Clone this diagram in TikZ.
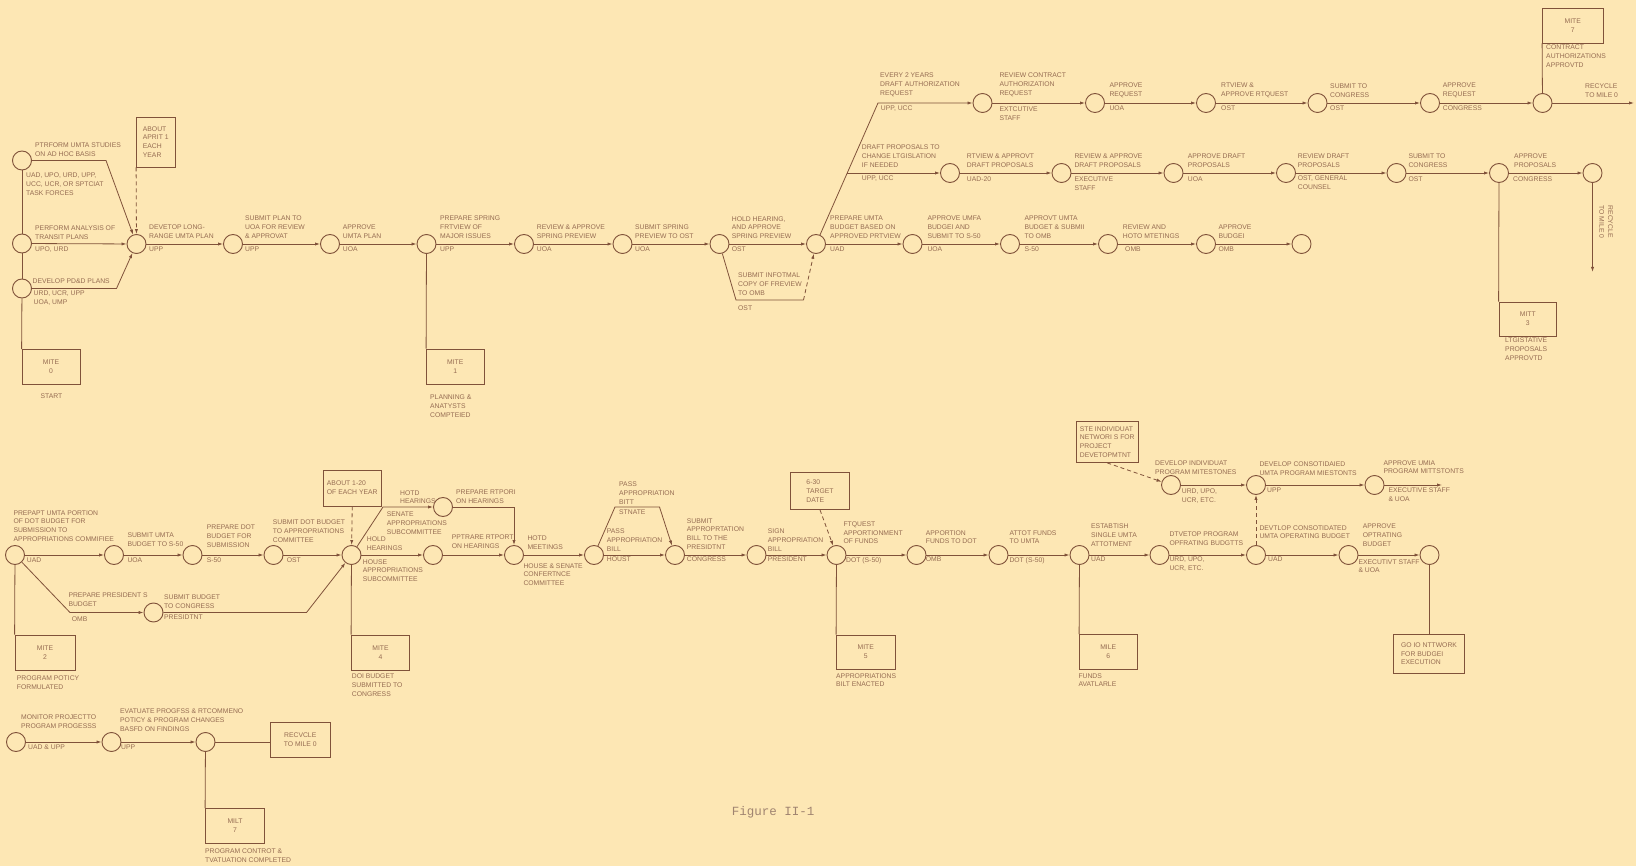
\documentclass[tikz,border=0pt]{standalone}
\usepackage{fontspec}
\usetikzlibrary{arrows.meta}
\newfontfamily\lblf{Liberation Sans}
\newfontfamily\figf{Liberation Mono}
\definecolor{bg}{RGB}{253,231,180}
\definecolor{ln}{RGB}{128,82,58}
\definecolor{tx}{RGB}{150,108,82}
\definecolor{fg}{RGB}{160,132,112}
\newcommand\lbl{\lblf\fontsize{6.8}{8.8}\selectfont}
\newcommand\AbL[4]{\node[ab] (#1) at (#2,#3) {#4};}
\newcommand\BeL[4]{\node[bl] (#1) at (#2,#3) {#4};}
\tikzset{
 ev/.style={circle,draw=ln,line width=0.9pt,minimum size=19pt,inner sep=0pt},
 lab/.style={font=\lbl,text=tx,align=left,inner sep=0pt},
 ab/.style={lab,anchor=south west},
 bl/.style={lab,anchor=north west},
 mbox/.style={draw=ln,line width=0.8pt,font=\lbl,text=tx,align=center,inner sep=1pt},
 lbox/.style={mbox,align=left},
 con/.style={draw=ln,line width=0.8pt},
 arr/.style={con,-{Latex[length=5pt,width=3.2pt]}},
 dsh/.style={arr,dash pattern=on 4pt off 3pt},
}
\begin{document}
\begin{tikzpicture}[x=1pt,y=-1pt]
\fill[bg] (0,0) rectangle (1636,866);
\useasboundingbox (0,0) rectangle (1636,866);

% ---------------- top section: events
\node[ev] (A1) at (22,160.5) {};
\node[ev] (A2) at (22,243.5) {};
\node[ev] (A3) at (22,288.5) {};
\node[ev] (B) at (136.5,244) {};
\node[ev] (C) at (233,244) {};
\node[ev] (D) at (330,244) {};
\node[ev] (E) at (426.5,244) {};
\node[ev] (F) at (524,244) {};
\node[ev] (G) at (622.5,244) {};
\node[ev] (H) at (719.5,244) {};
\node[ev] (I) at (816,244) {};
\node[ev] (J) at (912.5,244) {};
\node[ev] (K) at (1010,244) {};
\node[ev] (L) at (1108,244) {};
\node[ev] (M) at (1206,244) {};
\node[ev] (N) at (1301.5,244) {};
\node[ev] (U1) at (982.5,103) {};
\node[ev] (U2) at (1095,103) {};
\node[ev] (U3) at (1206,103) {};
\node[ev] (U4) at (1317.5,103) {};
\node[ev] (U5) at (1430,103) {};
\node[ev] (U6) at (1542.5,103) {};
\node[ev] (V1) at (950,173) {};
\node[ev] (V2) at (1061.5,173) {};
\node[ev] (V3) at (1173.5,173) {};
\node[ev] (V4) at (1286,173) {};
\node[ev] (V5) at (1396.5,173) {};
\node[ev] (V6) at (1499,173) {};
\node[ev] (V7) at (1592.5,173) {};

% boxes top
\node[mbox,minimum width=58pt,minimum height=34.5pt] (m0) at (51,366.75) {MITE\\0};
\node[lbox,minimum width=38.5pt,minimum height=50pt] (apr) at (155.75,142) {ABOUT\\APRIT 1\\EACH\\YEAR};
\node[mbox,minimum width=57.5pt,minimum height=35pt] (m1) at (455.25,366.5) {MITE\\1};
\node[mbox,minimum width=60.5pt,minimum height=35pt] (m7) at (1572.75,25.5) {MITE\\7};
\node[mbox,minimum width=57.5pt,minimum height=34pt] (m3) at (1527.75,319) {MITT\\3};

% corner points top
\coordinate (cA1) at (106,160.5);
\coordinate (cA3) at (116.5,288.5);
\coordinate (cH1) at (736,300);
\coordinate (cH2) at (803.5,300);
\coordinate (cI) at (878,103);
\coordinate (cM) at (847.2,173);
\coordinate (eU) at (1634,103);
\coordinate (eV) at (1592.5,272);

% connectors top
\draw[con] (A1) -- (A2);
\draw[con] (A2) -- (A3);
\draw[con] (A3) -- (m0.north west);
\draw[arr] (A1) -- (cA1) -- (B);
\draw[arr] (A2) -- (B);
\draw[arr] (A3) -- (cA3) -- (B);
\draw[dsh] (apr.south west) -- (B);
\draw[arr] (B) -- (C);
\draw[arr] (C) -- (D);
\draw[arr] (D) -- (E);
\draw[con] (E) -- (m1.north west);
\draw[arr] (E) -- (F);
\draw[arr] (F) -- (G);
\draw[arr] (G) -- (H);
\draw[arr] (H) -- (I);
\draw[con] (H) -- (cH1) -- (cH2);
\draw[dsh] (cH2) -- (I);
\draw[arr] (I) -- (J);
\draw[arr] (J) -- (K);
\draw[arr] (K) -- (L);
\draw[arr] (L) -- (M);
\draw[arr] (M) -- (N);
\draw[arr] (I) -- (cI) -- (U1);
\draw[arr] (U1) -- (U2);
\draw[arr] (U2) -- (U3);
\draw[arr] (U3) -- (U4);
\draw[arr] (U4) -- (U5);
\draw[arr] (U5) -- (U6);
\draw[arr] (U6) -- (eU);
\draw[con] (U6) -- (m7.south west);
\draw[arr] (cM) -- (V1);
\draw[arr] (V1) -- (V2);
\draw[arr] (V2) -- (V3);
\draw[arr] (V3) -- (V4);
\draw[arr] (V4) -- (V5);
\draw[arr] (V5) -- (V6);
\draw[arr] (V6) -- (V7);
\draw[con] (V6) -- (m3.north west);
\draw[arr] (V7) -- (eV);

% labels top
\AbL{tA1}{35}{156.5}{PTRFORM UMTA STUDIES\\ON AD HOC BASIS}
\BeL{bA1}{26}{172.5}{UAD, UPO, URD, UPP,\\UCC, UCR, OR SPTCIAT\\TASK FORCES}
\AbL{tA2}{35}{239.5}{PERFORM ANALYSIS OF\\TRANSIT PLANS}
\BeL{bA2}{35}{246.8}{UPO, URD}
\AbL{tA3}{32.5}{284.2}{DEVELOP PD\&D PLANS}
\BeL{bA3}{33.5}{290.8}{URD, UCR, UPP\\UOA, UMP}
\node[lab,anchor=center] (s0) at (51.5,396) {START};
\AbL{tB}{149}{239}{DEVETOP LONG-\\RANGE UMTA PLAN}
\BeL{bB}{149}{247}{UPP}
\AbL{tC}{245}{238.5}{SUBMIT PLAN TO\\UOA FOR REVIEW\\\& APPROVAT}
\BeL{bC}{245}{247}{UPP}
\AbL{tD}{342.7}{239}{APPROVE\\UMTA PLAN}
\BeL{bD}{342.7}{247}{UOA}
\AbL{tE}{440}{238.5}{PREPARE SPRING\\FRTVIEW OF\\MAJOR ISSUES}
\BeL{bE}{440}{247}{UPP}
\BeL{s1}{430}{394.8}{PLANNING \&\\ANATYSTS\\COMPTEIED}
\AbL{tF}{536.7}{238.5}{REVIEW \& APPROVE\\SPRING PREVIEW}
\BeL{bF}{536.7}{247}{UOA}
\AbL{tG}{635}{238.5}{SUBMIT SPRING\\PREVIEW TO OST}
\BeL{bG}{635}{247}{UOA}
\AbL{tH}{731.7}{239}{HOLD HEARING,\\AND APPROVE\\SPRING PREVIEW}
\BeL{bH}{731.7}{247}{OST}
\AbL{tH2}{738}{295.8}{SUBMIT INFOTMAL\\COPY OF FREVIEW\\TO OMB}
\BeL{bH2}{738}{305.2}{OST}
\AbL{tI}{830}{238.5}{PREPARE UMTA\\BUDGET BASED ON\\APPROVED PRTVIEW}
\BeL{bI}{830}{247}{UAD}
\AbL{tJ}{927.3}{238.5}{APPROVE UMFA\\BUDGEI AND\\SUBMIT TO S-50}
\BeL{bJ}{927.3}{247}{UOA}
\AbL{tK}{1024.3}{238.5}{APPROVT UMTA\\BUDGET \& SUBMII\\TO OMB}
\BeL{bK}{1024.3}{247}{S-50}
\AbL{tL}{1122.7}{238.5}{REVIEW AND\\HOTO MTETINGS}
\BeL{bL}{1125}{247}{OMB}
\AbL{tM}{1218.3}{238.5}{APPROVE\\BUDGEI}
\BeL{bM}{1218.3}{247}{OMB}
\AbL{tU0}{880}{97}{EVERY 2 YEARS\\DRAFT AUTHORIZATION\\REQUEST}
\BeL{bU0}{880.7}{106}{UPP, UCC}
\AbL{tU1}{999.3}{97}{REVIEW CONTRACT\\AUTHORIZATION\\REQUEST}
\BeL{bU1}{999.3}{106.5}{EXTCUTIVE\\STAFF}
\AbL{tU2}{1109.3}{98}{APPROVE\\REQUEST}
\BeL{bU2}{1109.3}{106}{UOA}
\AbL{tU3}{1221}{97.5}{RTVIEW \&\\APPROVE RTQUEST}
\BeL{bU3}{1221}{106}{OST}
\AbL{tU4}{1330}{97.5}{SUBMIT TO\\CONGRESS}
\BeL{bU4}{1330}{106}{OST}
\AbL{tU5}{1442.7}{97.5}{APPROVE\\REQUEST}
\BeL{bU5}{1442.7}{106}{CONGRESS}
\AbL{tU6}{1585}{97.5}{RECYCLE\\TO MILE 0}
\BeL{s7}{1546}{45}{CONTRACT\\AUTHORIZATIONS\\APPROVTD}
\AbL{tV0}{861.7}{167.5}{DRAFT PROPOSALS TO\\CHANGE LTGISLATION\\IF NEEDED}
\BeL{bV0}{861.7}{175.5}{UPP, UCC}
\AbL{tV1}{966.7}{167.5}{RTVIEW \& APPROVT\\DRAFT PROPOSALS}
\BeL{bV1}{966.7}{176.5}{UAD-20}
\AbL{tV2}{1074.3}{167.5}{REVIEW \& APPROVE\\DRAFT PROPOSALS}
\BeL{bV2}{1074.3}{176.5}{EXECUTIVE\\STAFF}
\AbL{tV3}{1187.7}{167.5}{APPROVE DRAFT\\PROPOSALS}
\BeL{bV3}{1187.7}{176.5}{UOA}
\AbL{tV4}{1297.7}{167.5}{REVIEW DRAFT\\PROPOSALS}
\BeL{bV4}{1297.7}{176}{OST, GENERAL\\COUNSEL}
\AbL{tV5}{1408.3}{167.5}{SUBMIT TO\\CONGRESS}
\BeL{bV5}{1408.3}{176.5}{OST}
\AbL{tV6}{1514}{167.5}{APPROVE\\PROPOSALS}
\BeL{bV6}{1513}{176.5}{CONGRESS}
\node[lab,rotate=-90,anchor=center] (tV7) at (1606,222) {RECYCLE\\TO MILE 0};
\BeL{s3}{1505}{337.5}{LTGISTATIVE\\PROPOSALS\\APPROVTD}

% ---------------- bottom section: events
\node[ev] (P1) at (15,555) {};
\node[ev] (P2) at (114,555) {};
\node[ev] (P3) at (192.5,555) {};
\node[ev] (P4) at (273.5,555) {};
\node[ev] (P5) at (351.5,555) {};
\node[ev] (P6) at (153.5,612.5) {};
\node[ev] (P7) at (443,507) {};
\node[ev] (P8) at (433,555) {};
\node[ev] (P9) at (514,555) {};
\node[ev] (P10) at (594,555) {};
\node[ev] (P11) at (675,555) {};
\node[ev] (P12) at (756.5,555) {};
\node[ev] (P13) at (836.5,555) {};
\node[ev] (P14) at (916.5,555) {};
\node[ev] (P15) at (998.5,555) {};
\node[ev] (P16) at (1079.5,555) {};
\node[ev] (P17) at (1159.5,555) {};
\node[ev] (P18) at (1256,555) {};
\node[ev] (P19) at (1348.5,555) {};
\node[ev] (P20) at (1429.5,555) {};
\node[ev] (Q1) at (1171,485) {};
\node[ev] (Q2) at (1256,485) {};
\node[ev] (Q3) at (1374.5,485) {};

% boxes bottom
\node[lbox,minimum width=57.5pt,minimum height=36pt] (abt) at (352.25,488) {ABOUT 1-20\\OF EACH YEAR};
\node[mbox,minimum width=60pt,minimum height=35pt] (m2) at (45,652.5) {MITE\\2};
\node[mbox,minimum width=58pt,minimum height=35pt] (m4) at (380.5,652.5) {MITE\\4};
\node[lbox,minimum width=59pt,minimum height=37pt] (date) at (820,491) {6-30\\TARGET\\DATE};
\node[mbox,minimum width=58.5pt,minimum height=34pt] (m5) at (865.75,652) {MITE\\5};
\node[mbox,minimum width=57.5pt,minimum height=34.5pt] (m6) at (1108.25,651.75) {MILE\\6};
\node[lbox,minimum width=62.5pt,minimum height=41pt] (see) at (1107.25,442) {STE INDIVIDUAT\\NETWORI S FOR\\PROJECT\\DEVETOPMTNT};
\node[lbox,minimum width=71pt,minimum height=39.5pt] (go) at (1429,653.75) {GO IO NTTWORK\\FOR BUDGEI\\EXECUTION};

% corner points bottom
\coordinate (cP1) at (70,612.5);
\coordinate (cP6) at (306.5,612.5);
\coordinate (cS1) at (383,507);
\coordinate (cS2) at (514,507);
\coordinate (cT1) at (615,507);
\coordinate (cT2) at (659.5,507);
\coordinate (eQ) at (1442,485);

% connectors bottom
\draw[arr] (P1) -- (P2);
\draw[arr] (P2) -- (P3);
\draw[arr] (P3) -- (P4);
\draw[arr] (P4) -- (P5);
\draw[arr] (P1) -- (cP1) -- (P6);
\draw[arr] (P6) -- (cP6) -- (P5);
\draw[con] (P1) -- (m2.north west);
\draw[dsh] (abt.south) -- (P5);
\draw[con] (P5) -- (m4.north west);
\draw[arr] (P5) -- (cS1) -- (P7);
\draw[arr] (P5) -- (P8);
\draw[arr] (P7) -- (cS2) -- (P9);
\draw[arr] (P8) -- (P9);
\draw[arr] (P9) -- (P10);
\draw[arr] (P10) -- (cT1) -- (cT2) -- (P11);
\draw[arr] (P10) -- (P11);
\draw[arr] (P11) -- (P12);
\draw[arr] (P12) -- (P13);
\draw[dsh] (date.south) -- (P13);
\draw[con] (P13) -- (m5.north west);
\draw[arr] (P13) -- (P14);
\draw[arr] (P14) -- (P15);
\draw[arr] (P15) -- (P16);
\draw[con] (P16) -- (m6.north west);
\draw[arr] (P16) -- (P17);
\draw[arr] (P17) -- (P18);
\draw[arr] (P18) -- (P19);
\draw[arr] (P19) -- (P20);
\draw[con] (P20) -- (P20 |- go.north);
\draw[dsh] (P18) -- (Q2);
\draw[dsh] (see.south) -- (Q1);
\draw[arr] (Q1) -- (Q2);
\draw[arr] (Q2) -- (Q3);
\draw[arr] (Q3) -- (eQ);

% labels bottom
\AbL{tP1}{13.3}{541.8}{PREPAPT UMTA PORTION\\OF DOT BUDGET FOR\\SUBMISSION TO\\APPROPRIATIONS COMMIFIEE}
\BeL{bP1}{26.7}{557.5}{UAD}
\AbL{tP2}{127.3}{546.8}{SUBMIT UMTA\\BUDGET TO S-50}
\BeL{bP2}{127.3}{557.5}{UOA}
\AbL{tP3}{206.7}{547.5}{PREPARE DOT\\BUDGET FOR\\SUBMISSION}
\BeL{bP3}{206.7}{557.5}{S-50}
\AbL{tP4}{272.7}{542.5}{SUBMIT DOT BUDGET\\TO APPROPRIATIONS\\COMMITTEE}
\BeL{bP4}{286.7}{557.5}{OST}
\AbL{tPl}{68.3}{606.8}{PREPARE PRESIDENT S\\BUDGET}
\BeL{bPl}{71.7}{616.8}{OMB}
\AbL{tP6}{164}{608.5}{SUBMIT BUDGET\\TO CONGRESS}
\BeL{bP6}{164}{615}{PRESIDTNT}
\BeL{s2}{16.7}{675.8}{PROGRAM POTICY\\FORMULATED}
\AbL{tS}{400}{504.2}{HOTD\\HEARINGS}
\BeL{bS}{386.7}{511.8}{SENATE\\APPROPRIATIONS\\SUBCOMMITTEE}
\AbL{tP5}{366.7}{550.8}{HOLD\\HEARINGS}
\BeL{bP5}{362.7}{559.2}{HOUSE\\APPROPRIATIONS\\SUBCOMMITTEE}
\BeL{s4}{351.7}{673.5}{DOI BUDGET\\SUBMITTED TO\\CONGRESS}
\AbL{tP7}{456}{503.5}{PREPARE RTPORI\\ON HEARINGS}
\AbL{tP8}{451.7}{548.5}{PPTRARE RTPORT\\ON HEARINGS}
\AbL{tP9}{527.3}{550}{HOTD\\MEETINGS}
\BeL{bP9}{523.3}{563.2}{HOUSE \& SENATE\\CONFERTNCE\\COMMITTEE}
\AbL{tT}{619}{504.2}{PASS\\APPROPRIATION\\BITT}
\BeL{bT}{619}{509.8}{STNATE}
\AbL{tP10}{606.7}{551.5}{PASS\\APPROPRIATION\\BILL}
\BeL{bP10}{606.7}{557}{HOUST}
\AbL{tP11}{686.7}{549.8}{SUBMIT\\APPROPRTATION\\BILL TO THE\\PRESIDTNT}
\BeL{bP11}{686.7}{557}{CONGRESS}
\AbL{tP12}{767.7}{551.5}{SIGN\\APPROPRIATION\\BILL}
\BeL{bP12}{767.7}{557}{PRESIDENT}
\AbL{tP13}{843.3}{544.2}{FTQUEST\\APPORTIONMENT\\OF FUNDS}
\BeL{bP13}{846}{557}{DOT (S-50)}
\BeL{s5}{836}{673.2}{APPROPRIATIONS\\BILT ENACTED}
\AbL{tP14}{925.7}{544.2}{APPORTION\\FUNDS TO DOT}
\BeL{bP14}{925.7}{557}{OMB}
\AbL{tP15}{1009.3}{544.2}{ATTOT FUNDS\\TO UMTA}
\BeL{bP15}{1009.3}{557}{DOT (S-50)}
\AbL{tP16}{1091}{546.8}{ESTABTISH\\SINGLE UMTA\\ATTOTMENT}
\BeL{bP16}{1091}{557}{UAD}
\BeL{s6}{1078.3}{673.2}{FUNDS\\AVATLARLE}
\AbL{tP17}{1169.3}{545.8}{DTVETOP PROGRAM\\OPFRATING BUDGTTS}
\BeL{bP17}{1169.3}{556.8}{URD, UPO,\\UCR, ETC.}
\AbL{tP18}{1259.3}{539.2}{DEVTLOP CONSOTIDATED\\UMTA OPERATING BUDGET}
\BeL{bP18}{1268}{557}{UAD}
\AbL{tP19}{1362.7}{546.8}{APPROVE\\OPTRATING\\BUDGET}
\BeL{bP19}{1358.3}{559.2}{EXECUTIVT STAFF\\\& UOA}
\AbL{tQ1}{1155}{474.8}{DEVELOP INDIVIDUAT\\PROGRAM MITESTONES}
\BeL{bQ1}{1181.7}{488.5}{URD, UPO,\\UCR, ETC.}
\AbL{tQ2}{1259.3}{475.8}{DEVELOP CONSOTIDAIED\\UMTA PROGRAM MIESTONTS}
\BeL{bQ2}{1267}{487.5}{UPP}
\AbL{tQ3}{1383.3}{474.2}{APPROVE UMIA\\PROGRAM MITTSTONTS}
\BeL{bQ3}{1388.3}{487.5}{EXECUTIVE STAFF\\\& UOA}

% ---------------- lowest section
\node[ev] (R1) at (16,742) {};
\node[ev] (R2) at (111.5,742) {};
\node[ev] (R3) at (205.5,742) {};
\node[mbox,minimum width=59.5pt,minimum height=35pt] (rc) at (300.25,740) {RECVCLE\\TO MILE 0};
\node[mbox,minimum width=59pt,minimum height=34.5pt] (m7b) at (235,825.75) {MILT\\7};
\draw[arr] (R1) -- (R2);
\draw[arr] (R2) -- (R3);
\draw[con] (R3) -- (R3 -| rc.west);
\draw[con] (R3) -- (m7b.north west);
\AbL{tR1}{21}{729}{MONITOR PROJECTTO\\PROGRAM PROGESSS}
\BeL{bR1}{28}{744.5}{UAD \& UPP}
\AbL{tR2}{120}{731.5}{EVATUATE PROGFSS \& RTCOMMENO\\POTICY \& PROGRAM CHANGES\\BASFD ON FINDINGS}
\BeL{bR2}{121}{744.5}{UPP}
\BeL{s7b}{205}{849}{PROGRAM CONTROT \&\\TVATUATION COMPLETED}

\node[anchor=west,inner sep=0pt,font=\figf\fontsize{12.5}{14}\selectfont,text=fg] (fig) at (731.7,812) {Figure II-1};
\end{tikzpicture}
\end{document}
